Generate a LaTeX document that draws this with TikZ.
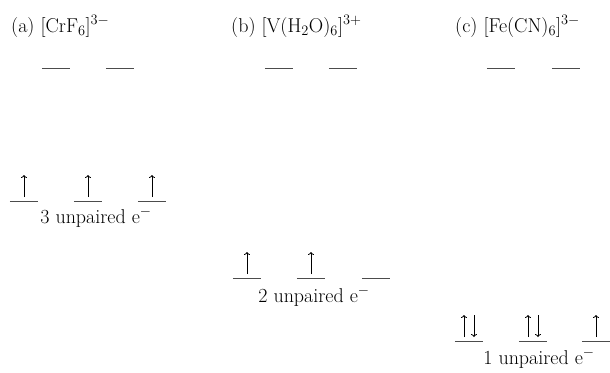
\documentclass[tikz,border=0pt]{standalone}
\usetikzlibrary{arrows.meta}
\begin{document}
\begin{tikzpicture}[x=1pt, y=-1pt, font=\fontsize{20}{24}\selectfont,
    level/.style={minimum width=28pt, minimum height=0pt, inner sep=0pt, draw=none},
    orb/.style={line width=1pt, black!70},
    spin/.style={-{To[length=3pt, width=6pt]}, line width=0.8pt},
    label/.style={anchor=base west, inner sep=0pt},
    count/.style={anchor=base, inner sep=0pt}]
  \useasboundingbox (0,0) rectangle (610,372);
  % titles
  \node[label] (ta) at (11,32) {(a) [CrF$_6$]$^{3-}$};
  \node[label] (tb) at (231,32) {(b) [V(H$_2$O)$_6$]$^{3+}$};
  \node[label] (tc) at (455,32) {(c) [Fe(CN)$_6$]$^{3-}$};
  % upper levels
  \foreach \n/\x in {a1/56, a2/120, b1/279, b2/343, c1/501, c2/566}
    \node[level] (eg\n) at (\x,68) {};
  % lower levels
  \foreach \n/\x in {a1/24, a2/88, a3/152}
    \node[level] (tg\n) at (\x,201) {};
  \foreach \n/\x in {b1/247, b2/311, b3/376}
    \node[level] (tg\n) at (\x,278) {};
  \foreach \n/\x in {c1/469, c2/533, c3/596}
    \node[level] (tg\n) at (\x,341) {};
  \foreach \n in {ega1, ega2, egb1, egb2, egc1, egc2, tga1, tga2, tga3, tgb1, tgb2, tgb3, tgc1, tgc2, tgc3}
    \draw[orb] (\n.west) -- (\n.east);
  % single electrons
  \foreach \n in {tga1, tga2, tga3, tgb1, tgb2, tgc3}
    \draw[spin] ([yshift=4pt]\n.center) -- ++(0,-22);
  % paired electrons
  \foreach \n in {tgc1, tgc2} {
    \draw[spin] ([xshift=-5pt, yshift=4pt]\n.center) -- ++(0,-22);
    \draw[spin] ([xshift=5pt, yshift=26pt]\n.center) -- ++(0,22);
  }
  % counts
  \node[count] (na) at (96,223) {3 unpaired e$^-$};
  \node[count] (nb) at (314,302) {2 unpaired e$^-$};
  \node[count] (nc) at (539,364) {1 unpaired e$^-$};
\end{tikzpicture}
\end{document}
